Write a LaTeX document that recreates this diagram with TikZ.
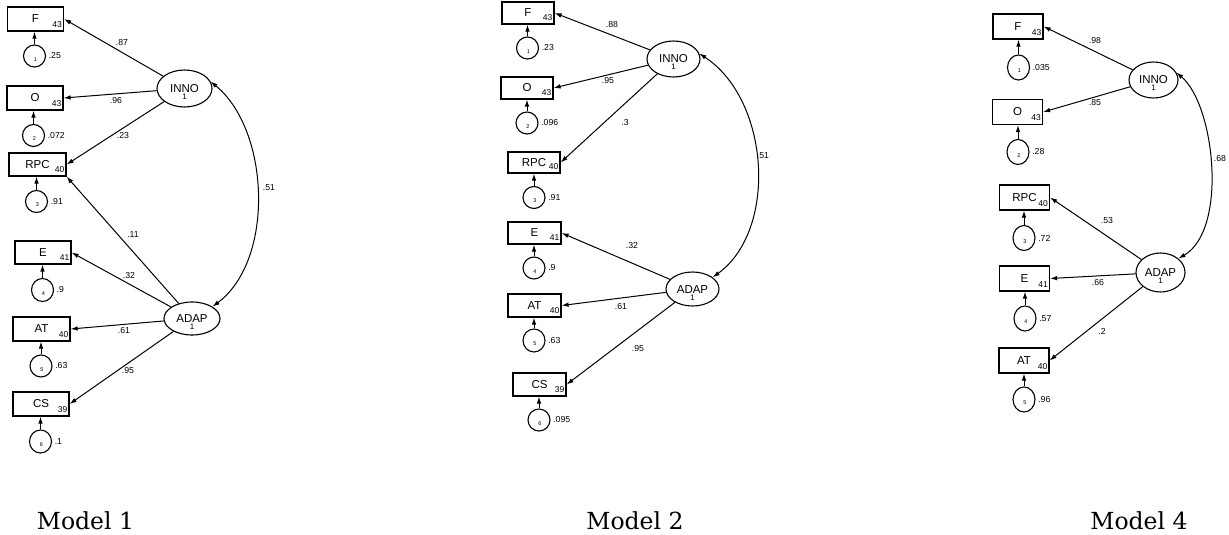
\documentclass[tikz,border=0pt]{standalone}
\usepackage{fontspec}
\setsansfont{Liberation Sans}
\newfontfamily\titlefont{DejaVu Serif}
\usetikzlibrary{arrows.meta,shapes.geometric}

\tikzset{
  obsbox/.style={draw, line width=1.25pt, rectangle, inner sep=0pt},
  lat/.style={draw, line width=1.1pt, ellipse, inner sep=0pt},
  errc/.style={draw, line width=1.1pt, ellipse, inner sep=0pt},
  vtxt/.style={font=\sffamily\fontsize{11.5}{11.5}\selectfont, inner sep=0pt},
  vnum/.style={font=\sffamily\fontsize{8.5}{8.5}\selectfont, inner sep=0pt, anchor=base east},
  eidx/.style={font=\sffamily\fontsize{5.5}{5.5}\selectfont, inner sep=0pt},
  coef/.style={font=\sffamily\fontsize{8.7}{8.7}\selectfont, inner sep=0pt},
  tip/.style={Latex[length=7pt,width=4.6pt]},
  load/.style={draw, line width=1pt, -{Latex[length=7pt,width=4.6pt]}},
  cov/.style={draw, line width=1pt, {Latex[length=7pt,width=4.6pt]}-{Latex[length=7pt,width=4.6pt]}},
  modeltitle/.style={font=\titlefont\fontsize{23.5}{28}\selectfont, inner sep=0pt, anchor=base},
}

% observed indicator: name, x, y, width, height, label, intercept
\newcommand\obsvar[7]{%
  \node[obsbox, minimum width=#4pt, minimum height=#5pt] (#1) at (#2,#3) {};
  \node[vtxt] (#1t) at (#1.center) {#6};
  \node[vnum] (#1n) at ([xshift=-2pt,yshift=4.5pt]#1.south east) {#7};
}
% error term: name, x, y, width, height, index, variance, indicator
\newcommand\errvar[8]{%
  \node[errc, minimum width=#4pt, minimum height=#5pt] (#1) at (#2,#3) {};
  \node[eidx] (#1i) at ([xshift=1pt,yshift=-3.5pt]#1.center) {#6};
  \node[coef, anchor=west] (#1v) at ([xshift=2.5pt]#1.east) {#7};
  \draw[load] (#1.north) -- (#1.north |- #8.south);
}
% latent factor: name, x, y, width, height, label
\newcommand\latvar[6]{%
  \node[lat, minimum width=#4pt, minimum height=#5pt] (#1) at (#2,#3) {};
  \node[vtxt, anchor=base] (#1t) at ([yshift=-4pt]#1.center) {#6};
  \node[vtxt, font=\sffamily\fontsize{8}{8}\selectfont, anchor=base] (#1n) at ([yshift=-11pt]#1.center) {1};
}

\begin{document}
\begin{tikzpicture}[x=1pt,y=-1pt]
\fill[white] (0,0) rectangle (1229,535);
\useasboundingbox (0,0) rectangle (1229,535);

% ---------------- Model 1 ----------------
\obsvar{f1}{35.5}{19}{56}{24}{F}{43}
\obsvar{o1}{35}{98}{56}{24}{O}{43}
\obsvar{rpc1}{37.5}{164.5}{57}{23}{RPC}{40}
\obsvar{e1}{43}{252.5}{56}{23}{E}{41}
\obsvar{at1}{41.5}{329}{57}{24}{AT}{40}
\obsvar{cs1}{41}{404}{56}{24}{CS}{39}
\errvar{ea1}{34.5}{56}{22}{22}{1}{.25}{f1}
\errvar{eb1}{33.5}{135.5}{22}{22}{2}{.072}{o1}
\errvar{ec1}{36.5}{201.5}{22}{22}{3}{.91}{rpc1}
\errvar{ed1}{42.5}{290}{22}{23}{4}{.9}{e1}
\errvar{ee1}{41}{366}{22}{22}{5}{.63}{at1}
\errvar{ef1}{40.5}{441.5}{22}{23}{6}{.1}{cs1}
\latvar{inno1}{184.5}{88.5}{55}{37}{INNO}
\latvar{adap1}{192}{318.5}{56}{33}{ADAP}
\draw[load] (inno1) -- (f1.east);
\draw[load] (inno1) -- (o1.east);
\draw[load] (inno1) -- (rpc1.east);
\draw[load] (adap1) -- (rpc1.south east);
\draw[load] (adap1) -- (e1.east);
\draw[load] (adap1) -- (at1.east);
\draw[load] (adap1) -- (cs1.east);
\draw[cov] (inno1.15) .. controls (270,130) and (275,260) .. (adap1.30);
\node[coef] (l1a) at (122,43) {.87};
\node[coef] (l1b) at (116,101) {.96};
\node[coef] (l1c) at (123,136) {.23};
\node[coef] (l1d) at (269,188) {.51};
\node[coef] (l1e) at (133,235) {.11};
\node[coef] (l1f) at (129,276) {.32};
\node[coef] (l1g) at (124,331) {.61};
\node[coef] (l1h) at (128,371) {.95};
\node[modeltitle] (t1) at (85.5,529) {Model 1};

% ---------------- Model 2 ----------------
\obsvar{f2}{528}{13}{52}{22}{F}{43}
\obsvar{o2}{527}{88}{52}{22}{O}{43}
\obsvar{rpc2}{534}{162.5}{52}{21}{RPC}{40}
\obsvar{e2}{534.5}{233}{53}{22}{E}{41}
\obsvar{at2}{534.5}{305.5}{53}{23}{AT}{40}
\obsvar{cs2}{539.5}{384.5}{53}{23}{CS}{39}
\errvar{ea2}{527.5}{48}{22}{22}{1}{.23}{f2}
\errvar{eb2}{527}{123}{22}{22}{2}{.096}{o2}
\errvar{ec2}{534}{197.5}{22}{22}{3}{.91}{rpc2}
\errvar{ed2}{534}{268}{22}{22}{4}{.9}{e2}
\errvar{ee2}{534}{340.5}{22}{23}{5}{.63}{at2}
\errvar{ef2}{539}{420}{22}{22}{6}{.095}{cs2}
\latvar{inno2}{673.5}{59}{53}{36}{INNO}
\latvar{adap2}{692.5}{289}{53}{34}{ADAP}
\draw[load] (inno2) -- (f2.east);
\draw[load] (inno2) -- (o2.east);
\draw[load] (inno2) -- (rpc2.east);
\draw[load] (adap2) -- (e2.east);
\draw[load] (adap2) -- (at2.east);
\draw[load] (adap2) -- (cs2.east);
\draw[cov] (inno2.12) .. controls (770,100) and (778,230) .. (adap2.30);
\node[coef] (l2a) at (612,25) {.88};
\node[coef] (l2b) at (608,81) {.95};
\node[coef] (l2c) at (625,123) {.3};
\node[coef] (l2d) at (763,156) {.51};
\node[coef] (l2e) at (632,246) {.32};
\node[coef] (l2f) at (621,307) {.61};
\node[coef] (l2g) at (638,349) {.95};
\node[modeltitle] (t2) at (635,529) {Model 2};

% ---------------- Model 4 ----------------
\obsvar{f4}{1018}{26.5}{50}{25}{F}{43}
\obsvar{o4}{1017.5}{112}{50}{25}{O}{43}
\obsvar{rpc4}{1024.5}{197.5}{50}{25}{RPC}{40}
\obsvar{e4}{1024.5}{278.5}{50}{25}{E}{41}
\obsvar{at4}{1024}{360.5}{50}{25}{AT}{40}
\errvar{ea4}{1018.5}{67.5}{22}{25}{1}{.035}{f4}
\errvar{eb4}{1018}{152}{22}{25}{2}{.28}{o4}
\errvar{ec4}{1024}{238}{22}{25}{3}{.72}{rpc4}
\errvar{ed4}{1025}{318.5}{22}{25}{4}{.57}{e4}
\errvar{ee4}{1024}{399.5}{22}{25}{5}{.96}{at4}
\latvar{inno4}{1153.5}{80}{49}{36}{INNO}
\latvar{adap4}{1160.5}{272.5}{49}{39}{ADAP}
\draw[load] (inno4) -- (f4.east);
\draw[load] (inno4) -- (o4.east);
\draw[load] (adap4) -- (rpc4.east);
\draw[load] (adap4) -- (e4.east);
\draw[load] (adap4) -- (at4.east);
\draw[cov] (inno4.18) .. controls (1215,105) and (1228,230) .. (adap4.38);
\node[coef] (l4a) at (1095,41) {.98};
\node[coef] (l4b) at (1095,103) {.85};
\node[coef] (l4c) at (1220,159) {.68};
\node[coef] (l4d) at (1107,221) {.53};
\node[coef] (l4e) at (1098,283) {.66};
\node[coef] (l4f) at (1102,331) {.2};
\node[modeltitle] (t4) at (1139,529) {Model 4};
\end{tikzpicture}
\end{document}
